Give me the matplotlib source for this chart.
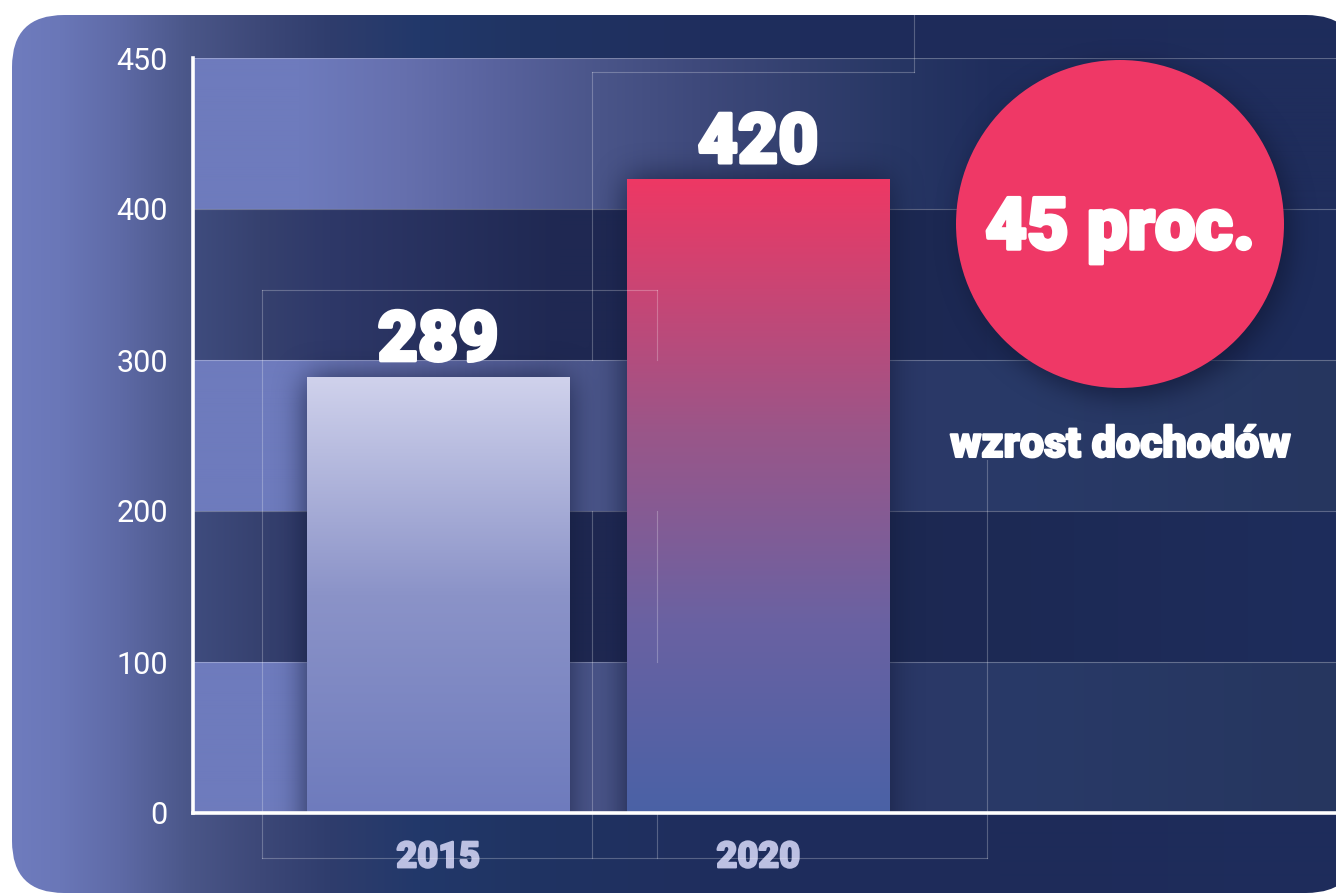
import numpy as np
import matplotlib.pyplot as plt
import matplotlib.patheffects as pe
from matplotlib.colors import to_rgb
from matplotlib.patches import FancyBboxPatch, Circle

# data
years = ['2015', '2020']
income = [289, 420]
y_ticks = [0, 100, 200, 300, 400, 500]
y_tick_labels = ['0', '100', '200', '300', '400', '450']
badge_value = '45 proc.'
badge_caption = 'wzrost dochodów'

W, H = 1336, 894
DPI = 100
HEAVY = ['Roboto', 'DejaVu Sans']
LIGHT = ['Roboto', 'DejaVu Sans']


def ramp(stops, xs):
    # piecewise linear colour ramp, stops = [(pixel_x, colour), ...]
    pos = np.array([p for p, _ in stops], float)
    cols = np.array([to_rgb(c) for _, c in stops])
    return np.stack([np.interp(xs, pos, cols[:, i]) for i in range(3)], axis=-1)


def box_blur(a, r, passes=3):
    # repeated box blur ~ gaussian, zero padded
    for _ in range(passes):
        for axis in (0, 1):
            a = np.moveaxis(a, axis, 0)
            pad = np.pad(a, ((r + 1, r), (0, 0)))
            c = np.cumsum(pad, axis=0)
            a = (c[2 * r + 1:] - c[:-2 * r - 1]) / (2 * r + 1)
            a = np.moveaxis(a, 0, axis)
    return a


def shadow_rgba(mask, alpha, color=(0.07, 0.10, 0.22)):
    img = np.zeros(mask.shape + (4,))
    img[..., :3] = color
    img[..., 3] = np.clip(mask * alpha, 0, 1)
    return img


def fat(width, colour='white'):
    # thicken the heavy lettering a little
    return [pe.withStroke(linewidth=width, foreground=colour)]


bg_stops = [(12, '#6f7cbe'), (60, '#6a77b8'), (120, '#5e6aa6'), (190, '#4a5688'),
            (260, '#3d4878'), (330, '#2f3d6d'), (420, '#22386a'), (520, '#203463'),
            (700, '#1f2e5e'), (1000, '#1e2b59'), (1336, '#1e2d5c')]
light_stops = [(193, '#6e7bbd'), (300, '#6e7bbd'), (400, '#6670ae'), (500, '#58629d'),
               (600, '#4a5589'), (700, '#3e497b'), (800, '#33406f'), (900, '#2b3867'),
               (1000, '#293a68'), (1336, '#26365f')]
top_stops = [(193, '#6e7bbd'), (300, '#6e7bbd'), (400, '#6670ae'), (500, '#58629d'),
             (600, '#4a5589'), (700, '#3e497b'), (800, '#33406f'), (900, '#273664'),
             (1000, '#1f2d5c'), (1336, '#1f2d5c')]
dark_stops = [(193, '#3f4c7e'), (260, '#36416f'), (330, '#2e3868'), (560, '#1f2852'),
              (700, '#1f2a55'), (900, '#1c2852'), (1336, '#1e2d5c')]
band_stops = [light_stops, dark_stops, light_stops, dark_stops, top_stops]

fig = plt.figure(figsize=(W / DPI, H / DPI), dpi=DPI, facecolor='white')

# card background, drawn in pixel units
ax_bg = fig.add_axes([0, 0, 1, 1], zorder=0)
ax_bg.set_xlim(0, W)
ax_bg.set_ylim(H, 0)
ax_bg.axis('off')
card = FancyBboxPatch((12, 15), 1346, 878, boxstyle='round,pad=0,rounding_size=52',
                      fc='none', ec='none')
ax_bg.add_patch(card)
bg_row = ramp(bg_stops, np.arange(W) + 0.5)
im = ax_bg.imshow(np.repeat(bg_row[None], 2, axis=0), extent=(0, W, H, 0),
                  aspect='auto', interpolation='bilinear')
im.set_clip_path(card)

# main chart axes
ax_l, ax_r, ax_t, ax_b = 193, 1336, 58, 813
aw, ah = ax_r - ax_l, ax_b - ax_t
ax = fig.add_axes([ax_l / W, 1 - ax_b / H, aw / W, ah / H], zorder=1)
ax.set_facecolor('none')
xmin, xmax, ymin, ymax = -0.766, 2.806, 0, 500
ax.set_xlim(xmin, xmax)
ax.set_ylim(ymin, ymax)

# alternating bands between the gridlines
band_x = np.linspace(ax_l, ax_r, aw)
for i, stops in enumerate(band_stops):
    row = ramp(stops, band_x)
    ax.imshow(np.repeat(row[None], 2, axis=0), extent=(xmin, xmax, y_ticks[i], y_ticks[i + 1]),
              aspect='auto', interpolation='bilinear', zorder=0)

ax.set_yticks(y_ticks, y_tick_labels)
ax.set_axisbelow(True)
ax.grid(axis='y', color='white', alpha=0.28, lw=0.8)
ax.grid(axis='x', visible=False)

x = np.arange(len(years))
bars = ax.bar(x, income, width=0.82, color=['#6e7bbd', '#4a61a6'], zorder=2)

# soft shadow behind the bars
m = 60
mask = np.zeros((ah + 2 * m, aw + 2 * m))
for b in bars:
    px0 = int(round((b.get_x() - xmin) / (xmax - xmin) * aw)) + m
    px1 = int(round((b.get_x() + b.get_width() - xmin) / (xmax - xmin) * aw)) + m
    py0 = int(round((ymax - b.get_height()) / (ymax - ymin) * ah)) + m
    mask[py0:, px0:px1] = 1
mask = box_blur(mask, 15)[m:-m, m:-m]
ax.imshow(shadow_rgba(mask, 0.8), extent=(xmin, xmax, ymin, ymax), aspect='auto',
          interpolation='bilinear', zorder=1)

# vertical gradients inside the bars
grads = [[(0.0, '#6e7bbd'), (0.5, '#8b93c8'), (1.0, '#d0d2ec')],
         [(0.0, '#4a61a6'), (0.3, '#6a62a2'), (0.6, '#9a5689'), (1.0, '#ee3864')]]
for b, g in zip(bars, grads):
    col = ramp(g, np.linspace(0, 1, 256))[::-1]
    gi = ax.imshow(np.repeat(col[:, None], 2, axis=1),
                   extent=(b.get_x(), b.get_x() + b.get_width(), 0, b.get_height()),
                   aspect='auto', interpolation='bilinear', zorder=2.1)
    gi.set_clip_path(b)
ax.set_xlim(xmin, xmax)
ax.set_ylim(ymin, ymax)

for xi, v in zip(x, income):
    ax.annotate(str(v), xy=(xi, v), xytext=(0, 16), textcoords='offset pixels',
                ha='center', va='baseline', fontsize=50, color='white',
                family=HEAVY, weight='black', zorder=4, path_effects=fat(2.5))

for side in ('top', 'right'):
    ax.spines[side].set_visible(False)
for side in ('left', 'bottom'):
    ax.spines[side].set_color('white')
    ax.spines[side].set_linewidth(2.6)

ax.set_xticks(x, years)
ax.tick_params(axis='y', length=0, pad=18, labelsize=22, labelcolor='white')
ax.tick_params(axis='x', length=0, pad=19, labelsize=26, labelcolor='#bcc0e2')
for lbl in ax.get_yticklabels():
    lbl.set_family(LIGHT)
    lbl.set_weight('normal')
for lbl in ax.get_xticklabels():
    lbl.set_family(HEAVY)
    lbl.set_weight('black')
    lbl.set_path_effects(fat(1.5, '#bcc0e2'))

# overlay in pixel units: thin frame lines, badge circle and its texts
ax_top = fig.add_axes([0, 0, 1, 1], zorder=3)
ax_top.set_xlim(0, W)
ax_top.set_ylim(H, 0)
ax_top.axis('off')

frame_lines = [((914, 15), (914, 72)), ((592, 72), (914, 72)),
               ((592, 72), (592, 360)), ((592, 511), (592, 858)),
               ((262, 858), (987, 858)), ((987, 460), (987, 858)),
               ((262, 290), (657, 290)), ((262, 290), (262, 858)),
               ((657, 290), (657, 360)), ((657, 511), (657, 662)), ((657, 813), (657, 858))]
for (x0, y0), (x1, y1) in frame_lines:
    ax_top.plot([x0, x1], [y0, y1], color='white', alpha=0.25, lw=0.8, zorder=1)

cx, cy, cr = 1120, 224, 164
yy, xx = np.mgrid[0:H, 0:W] + 0.5
cmask = (((xx - cx - 6) ** 2 + (yy - cy - 8) ** 2) <= cr ** 2).astype(float)
cmask = box_blur(cmask, 12)
sh = ax_top.imshow(shadow_rgba(cmask, 0.8), extent=(0, W, H, 0), aspect='auto',
                   interpolation='bilinear', zorder=2)
sh.set_clip_path(card.get_path(), card.get_transform())
ax_top.add_patch(Circle((cx, cy), cr, fc='#ef3866', ec='none', zorder=3))
ax_top.text(cx, 249, badge_value, ha='center', va='baseline', fontsize=52,
            color='white', family=HEAVY, weight='black', zorder=4, path_effects=fat(2.5))
ax_top.text(cx, 457, badge_caption, ha='center', va='baseline', fontsize=31,
            color='white', family=HEAVY, weight='black', zorder=4, path_effects=fat(1.5))

fig.savefig('out.png', dpi=DPI, facecolor='white')
